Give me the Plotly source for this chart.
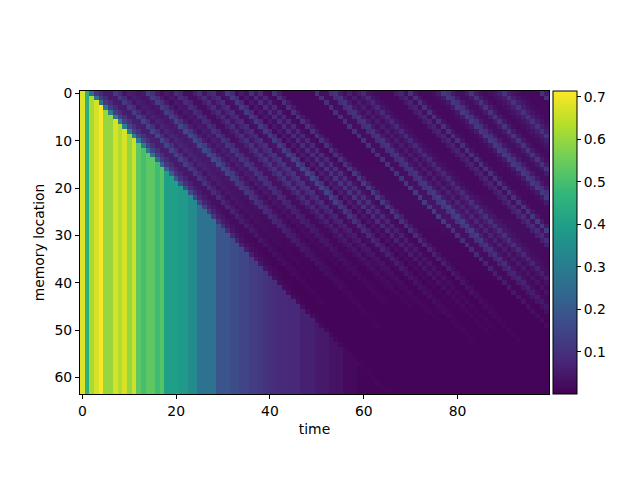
import plotly.graph_objects as go

column_level = [.68,.45,.62,.67,.71,.60,.60,.67,.63,.67,.60,.66,.53,.50,.53,.53,.49,.52,.40,.40,
                .40,.39,.38,.35,.34,.27,.27,.27,.27,.19,.19,.19,.17,.17,.15,.15,.13,.13,.12,.11,
                .10,.09,.085,.085,.08,.08,.08,.065,.065,.065,.05,.05,.05,.035,.035,.035,.02,.02,.02,.01,
                .008,.008,.008,.008,.008]
stripe_by_offset = [0,0,.25,.12,.08,.05,.05,.12,.08,.04,.06,.05,.04,.05,.13,.10,.05,.03,.05,.04,
                    .09,.07,.03,.03,.06,.09,.04,.07,.09,.03,.04,.12,.08,.02,.05,.03,.09,.04,.08,.03,
                    .02,.10,.05,.02,.02,.02,.02,.02,.02,.02,.10,.03,.03,.09,.11,.05,.03,.06,.03,.05,
                    .08,.04,.03,.02,.02,.02,.02,.05,.07,.03,.10,.04,.02,.02,.02,.03,.05,.12,.10,.05,
                    .03,.03,.05,.11,.05,.03,.02,.03,.04,.06,.11,.06,.04,.03,.02,.02,.02,.02,.10,.05]
fade_by_depth = [1.0,1.05,1.1,1.15,1.2,1.2,1.25,1.25,1.25,1.25,1.2,1.2,1.15,1.1,1.0,.95,.9,.85,.8,.75,
                 .7,.66,.62,.58,.54,.5,.46,.42,.38,.34,.3,.28,.26,.24,.22,.2,.18,.16,.14,.13,
                 .12,.11,.11,.1,.1,.1,.09,.09,.08,.08,.08,.07,.07,.07,.06,.06,.06,.06,.05,.05,
                 .05,.05,.05,.05]
base_level = 0.01
x_ticks = [0,20,40,60,80]
y_ticks = [0,10,20,30,40,50,60]
cbar_ticks = [.1,.2,.3,.4,.5,.6,.7]
n_rows, n_cols = 64, 100

z = []
for r in range(n_rows):
    row = []
    for c in range(n_cols):
        if c <= r + 1:
            row.append(column_level[c])
        else:
            d = c - r
            depth = max(0, r - d // 3)
            row.append(max(base_level, stripe_by_offset[d] * fade_by_depth[depth]))
    z.append(row)

font = dict(family="DejaVu Sans", size=13.9, color="black")
fig = go.Figure(go.Heatmap(
    z=z, zmin=0.001, zmax=0.714, colorscale="Viridis",
    colorbar=dict(x=1+4/469, xanchor="left", y=0, yanchor="bottom",
                  len=1, lenmode="fraction", thickness=24, thicknessmode="pixels",
                  xpad=0, ypad=0, outlinecolor="black", outlinewidth=1,
                  tickmode="array", tickvals=cbar_ticks, ticktext=[str(t) for t in cbar_ticks],
                  ticks="outside", ticklen=4, tickcolor="black", tickfont=font),
))
axis = dict(showgrid=False, zeroline=False, showline=True, linecolor="black", linewidth=1, mirror=True,
            ticks="outside", ticklen=4, tickcolor="black", tickfont=font, automargin=False)
fig.update_layout(
    width=632, height=472, margin=dict(l=72, r=91, t=83, b=86, autoexpand=False),
    paper_bgcolor="white", plot_bgcolor="white",
    xaxis=dict(range=[-0.5, 99.5], tickmode="array", tickvals=x_ticks,
               title=dict(text="time", font=font, standoff=6), **axis),
    yaxis=dict(range=[63.5, -0.5], tickmode="array", tickvals=y_ticks,
               title=dict(text="memory location", font=font, standoff=6), **axis),
)
fig.write_html("out.html")
